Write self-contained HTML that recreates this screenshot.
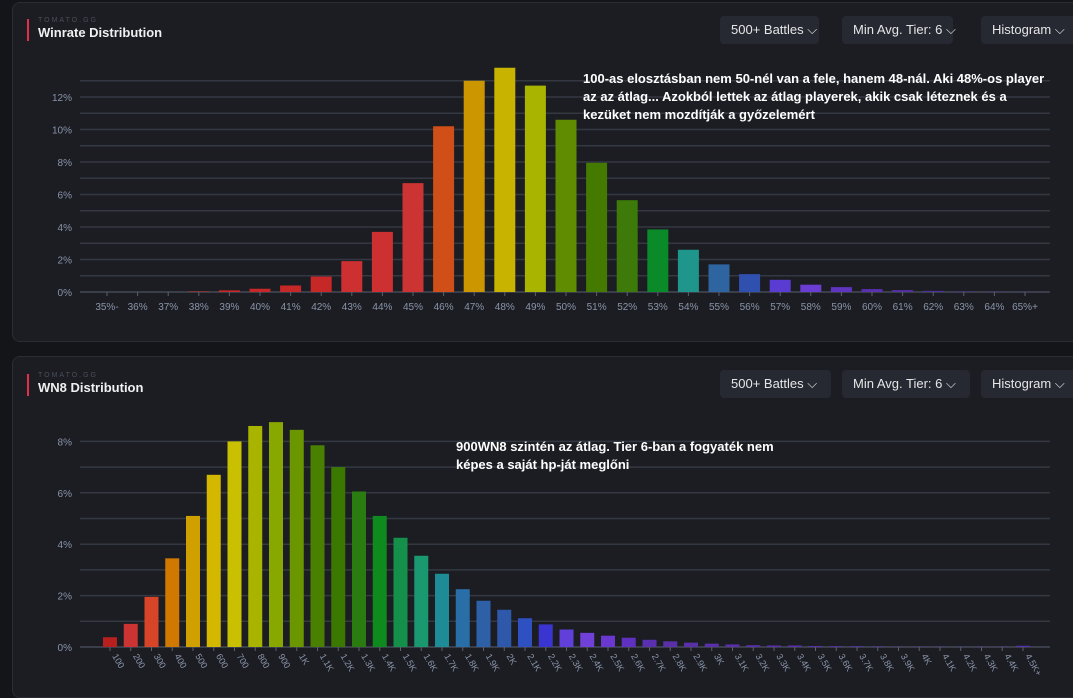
<!DOCTYPE html>
<html><head><meta charset="utf-8">
<style>
body{margin:0;width:1073px;height:686px;background:#131519;overflow:hidden;font-family:"Liberation Sans",sans-serif;position:relative}
.panel{position:absolute;left:12px;width:1075px;background:#1b1d23;border:1px solid #2a2d35;border-radius:8px}
.brand{position:absolute;left:38px;font-size:7px;letter-spacing:2px;color:#4a4e58}
.title{position:absolute;left:38px;font-size:13px;font-weight:bold;color:#f0f0f0}
.bar{position:absolute;left:27px;width:2px;height:22px;background:#e0304a}
.btn{position:absolute;height:28px;background:#262932;border-radius:4px;color:#e6e6e6;font-size:13px;line-height:28px;padding:0 11px;box-sizing:border-box;white-space:nowrap}
.note{position:absolute;color:#fff;font-weight:bold;font-size:13px;line-height:18px}
svg{position:absolute;left:0;top:0}
</style></head><body>
<div class="panel" style="top:2px;height:338px"></div>
<div class="panel" style="top:356px;height:340px"></div>

<div class="bar" style="top:19px"></div>
<div class="brand" style="top:17px">TOMATO.GG</div>
<div class="title" style="top:25px">Winrate Distribution</div>
<div class="btn" style="left:720px;top:16px;width:99px">500+ Battles ⌵</div>
<div class="btn" style="left:842px;top:16px;width:111px">Min Avg. Tier: 6 ⌵</div>
<div class="btn" style="left:981px;top:16px;width:100px">Histogram ⌵</div>

<div class="bar" style="top:374px"></div>
<div class="brand" style="top:372px">TOMATO.GG</div>
<div class="title" style="top:380px">WN8 Distribution</div>
<div class="btn" style="left:720px;top:370px;width:111px">500+ Battles ⌵</div>
<div class="btn" style="left:842px;top:370px;width:128px">Min Avg. Tier: 6 ⌵</div>
<div class="btn" style="left:981px;top:370px;width:100px">Histogram ⌵</div>

<svg id="chart" width="1073" height="686"></svg>

<div class="note" style="left:583px;top:70px;width:470px">100-as elosztásban nem 50-nél van a fele, hanem 48-nál. Aki 48%-os player az az átlag... Azokból lettek az átlag playerek, akik csak léteznek és a kezüket nem mozdítják a győzelemért</div>
<div class="note" style="left:456px;top:438px;width:320px">900WN8 szintén az átlag. Tier 6-ban a fogyaték nem képes a saját hp-ját meglőni</div>

<script>
const wrCats=["35%-","36%","37%","38%","39%","40%","41%","42%","43%","44%","45%","46%","47%","48%","49%","50%","51%","52%","53%","54%","55%","56%","57%","58%","59%","60%","61%","62%","63%","64%","65%+"];
const wrVals=[0,0,0,0.03,0.1,0.2,0.4,0.95,1.9,3.7,6.7,10.2,13.0,13.8,12.7,10.6,7.95,5.65,3.85,2.6,1.7,1.1,0.75,0.45,0.3,0.18,0.12,0.07,0.03,0.02,0.01];
const wrTicks=[0,2,4,6,8,10,12];
const wnCats=["100","200","300","400","500","600","700","800","900","1K","1.1K","1.2K","1.3K","1.4K","1.5K","1.6K","1.7K","1.8K","1.9K","2K","2.1K","2.2K","2.3K","2.4K","2.5K","2.6K","2.7K","2.8K","2.9K","3K","3.1K","3.2K","3.3K","3.4K","3.5K","3.6K","3.7K","3.8K","3.9K","4K","4.1K","4.2K","4.3K","4.4K","4.5K+"];
const wnVals=[0.38,0.9,1.95,3.45,5.1,6.7,8.0,8.6,8.75,8.45,7.85,7.0,6.05,5.1,4.25,3.55,2.85,2.25,1.8,1.45,1.12,0.88,0.68,0.55,0.44,0.36,0.28,0.22,0.17,0.13,0.1,0.07,0.06,0.06,0.04,0.03,0.03,0.02,0.01,0.01,0.01,0.01,0.01,0.01,0.05];
const wnTicks=[0,2,4,6,8];

const wrColors=["#c62828","#c62828","#c62828","#c62828","#c62828","#c62828","#c62828","#c62828","#cc3030","#cc3030","#cc3333","#d04e18","#cc9600","#c8b400","#a8b400","#5f8c00","#457a00","#3d7a0a","#0a8a28","#1e968c","#2e64a0","#3050b0","#5a3cd2","#6a3cd2","#5e34c0","#5a30b0","#5430a0","#50309a","#4a2c90","#4a2c90","#4a2c90"];
const wnColors=["#b82020","#cc3333","#d84428","#d07800","#d0a000","#d4b800","#c8c000","#a8b400","#88a800","#6a9600","#4a8000","#3a7800","#2a7c10","#0e8a1e","#14904a","#1a9870","#1e8c96","#2a6ea8","#2e60a8","#2e58aa","#2e50c0","#3a34d0","#6040d8","#7040d8","#6a38d0","#6030c0","#5a30b0","#5a30a8","#5a30a8","#5a30a8","#5a30a8","#5a30a8","#5a30a8","#5a30a8","#5a30a8","#5a30a8","#5a30a8","#5a30a8","#5a30a8","#5a30a8","#5a30a8","#5a30a8","#5a30a8","#5a30a8","#5a30a8"];

const svg=document.getElementById('chart');
const NS='http://www.w3.org/2000/svg';
function mk(tag,attrs){const e=document.createElementNS(NS,tag);for(const k in attrs)e.setAttribute(k,attrs[k]);svg.appendChild(e);return e;}

function drawChart(o){
  const y=v=>o.y0-v*o.pxPer;
  const x=i=>o.x0+i*o.step;
  for(let g=0;g<=o.gridMax;g++){
    const l=mk('line',{x1:o.left,x2:o.right,y1:y(g),y2:y(g),stroke:g===0?'#3a3e48':'#343842','stroke-width':g===0?2:1.5});
    
    
  }
  o.ticks.forEach(t=>{
    const tx=mk('text',{x:o.left-8,y:y(t)+4,'text-anchor':'end','font-size':10,fill:'#8a94a8'});
    tx.textContent=t+'%';
    
    
  });
  o.cats.forEach((c,i)=>{
    const v=o.vals[i];
    const h=Math.max(0,v*o.pxPer);
    const b=mk('rect',{x:x(i)-o.bw/2,y:y(v),width:o.bw,height:h,fill:o.colors[i]});
    
    
    mk('line',{x1:x(i),x2:x(i),y1:o.y0,y2:o.y0+4,stroke:'#5a6070'});
    let tx;
    if(o.rot){
      tx=mk('text',{x:x(i)+2,y:o.y0+9,'font-size':9,fill:'#8a94a8',transform:`rotate(60 ${x(i)+2} ${o.y0+9})`});
    }else{
      tx=mk('text',{x:x(i),y:o.y0+18,'text-anchor':'middle','font-size':10,fill:'#8a94a8'});
    }
    tx.textContent=c;
    
    
  });
}
drawChart({name:'winrate',cats:wrCats,vals:wrVals,colors:wrColors,ticks:wrTicks,y0:292,pxPer:16.25,x0:107,step:30.6,bw:21,left:80,right:1050,gridMax:13,rot:false});
drawChart({name:'wn8',cats:wnCats,vals:wnVals,colors:wnColors,ticks:wnTicks,y0:647,pxPer:25.7,x0:110,step:20.75,bw:14,left:80,right:1050,gridMax:8,rot:true});
</script>
</body></html>
